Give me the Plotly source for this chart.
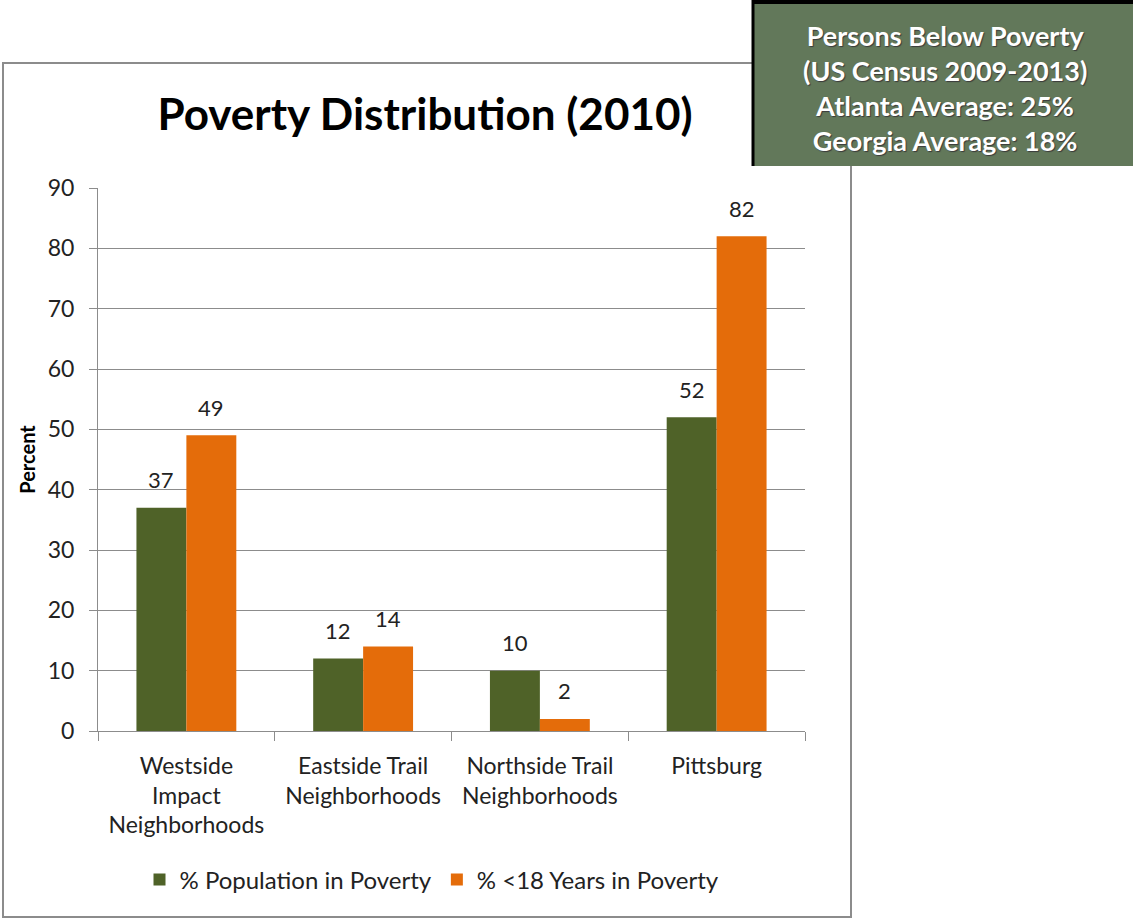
import plotly.graph_objects as go

categories = ["Westside<br>Impact<br>Neighborhoods", "Eastside Trail<br>Neighborhoods",
              "Northside Trail<br>Neighborhoods", "Pittsburg"]
pop_poverty = [37, 12, 10, 52]
youth_poverty = [49, 14, 2, 82]
series_names = ["% Population in Poverty", "% <18 Years in Poverty"]
box_lines = ["Persons Below Poverty", "(US Census 2009-2013)",
             "Atlanta Average: 25%", "Georgia Average: 18%"]

FONT = "Lato, 'Open Sans', sans-serif"
GREEN = "#4F6228"
ORANGE = "#E46C0A"
TXT = "#222222"

fig = go.Figure()
fig.add_trace(go.Bar(x=categories, y=pop_poverty, name=series_names[0],
                     marker=dict(color=GREEN, line=dict(width=0))))
fig.add_trace(go.Bar(x=categories, y=youth_poverty, name=series_names[1],
                     marker=dict(color=ORANGE, line=dict(width=0))))

# data labels above bars
for vals, shift in ((pop_poverty, -25), (youth_poverty, 25)):
    for c, v in zip(categories, vals):
        fig.add_annotation(x=c, y=v, xshift=shift, yshift=28, text=str(v), showarrow=False,
                           xanchor="center", yanchor="middle",
                           font=dict(size=22, color=TXT, family=FONT))

W, H = 1133, 919
L, R, T, B = 98, 805, 188, 731
def px(x):
    return (x - L) / (R - L)
def py(y):
    return (B - y) / (B - T)

fig.update_layout(
    width=W, height=H,
    margin=dict(l=L, r=W - R, t=T, b=H - B, autoexpand=False),
    paper_bgcolor="white", plot_bgcolor="white",
    font=dict(family=FONT, size=22, color=TXT),
    barmode="group", bargap=0.435, bargroupgap=0,
    title=dict(text="<b>Poverty Distribution (2010)</b>", xref="paper", x=px(425), xanchor="center",
               yref="container", y=1 - 115 / H, yanchor="middle", font=dict(size=44, color="black")),
    legend=dict(orientation="h", x=px(432), xanchor="center", y=py(880), yanchor="middle",
                font=dict(size=24, color=TXT), itemwidth=30, traceorder="normal"),
    showlegend=True,
)
fig.update_yaxes(range=[0, 90], dtick=10, showgrid=True, gridcolor="#8C8C8C", gridwidth=1,
                 showline=True, linecolor="#8C8C8C", linewidth=1,
                 ticks="outside", ticklen=8, tickcolor="#8C8C8C", ticklabelstandoff=10,
                 tickfont=dict(size=23, color=TXT), zeroline=False,
                 title=dict(text="<b>Percent</b>", font=dict(size=20, color="black"), standoff=6))
fig.update_xaxes(showline=True, linecolor="#8C8C8C", linewidth=1,
                 ticks="outside", ticklen=9, tickcolor="#8C8C8C", tickson="boundaries",
                 ticklabelstandoff=14, tickfont=dict(size=23, color=TXT))

# outer chart border
fig.add_shape(type="rect", xref="paper", yref="paper", x0=px(3), x1=px(851), y0=py(917), y1=py(63),
              line=dict(color="#8C8C8C", width=2), fillcolor="rgba(0,0,0,0)", layer="below")
# info box
fig.add_shape(type="rect", xref="paper", yref="paper", x0=px(753), x1=px(1140), y0=py(166), y1=py(-5),
              line=dict(width=0), fillcolor="#62785A", layer="above")
fig.add_shape(type="line", xref="paper", yref="paper", x0=px(753), x1=px(753), y0=py(166), y1=py(0),
              line=dict(color="black", width=3), layer="above")
fig.add_shape(type="line", xref="paper", yref="paper", x0=px(752), x1=px(1140), y0=py(2), y1=py(2),
              line=dict(color="black", width=4), layer="above")
fig.add_annotation(xref="paper", yref="paper", x=px(945), y=py(88), xanchor="center", yanchor="middle",
                   text="<br>".join("<b>" + s + "</b>" for s in box_lines), showarrow=False,
                   font=dict(size=27, color="white", family=FONT,
                             shadow="1px 1px 1px #3a3a3a"), align="center")

fig.write_html("out.html")
